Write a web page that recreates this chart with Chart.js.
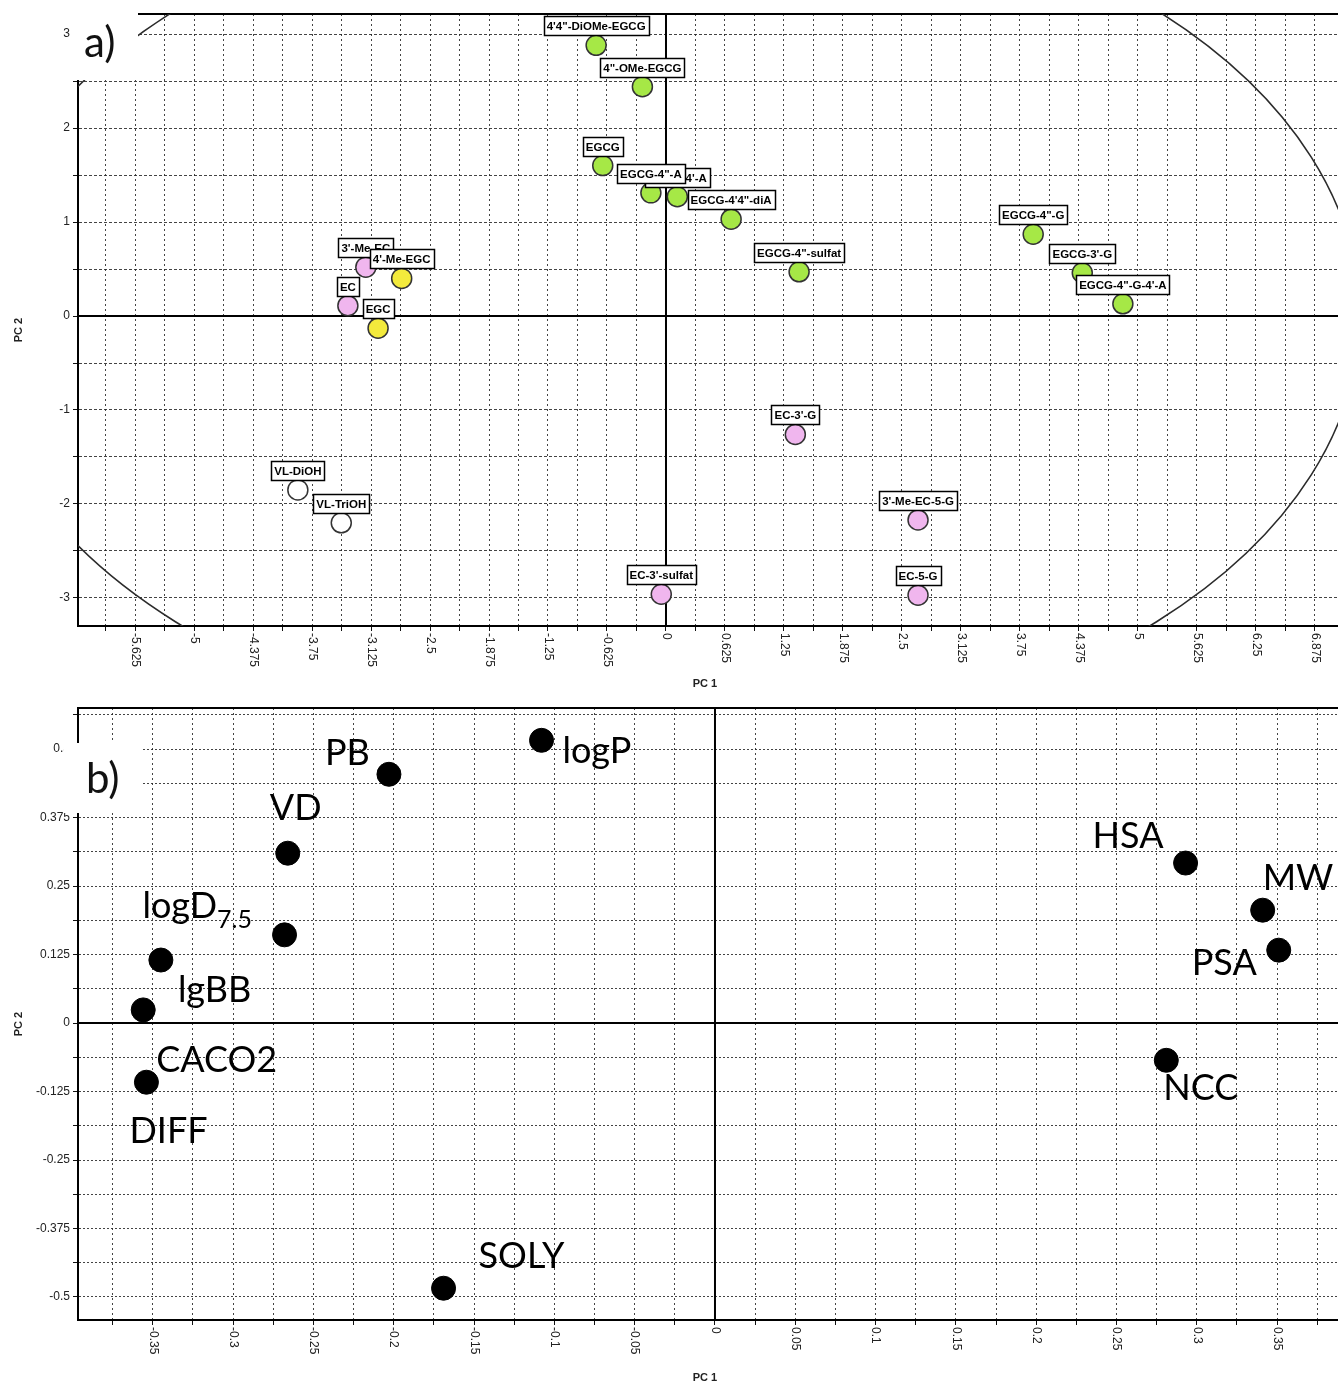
<!DOCTYPE html>
<html>
<head>
<meta charset="utf-8">
<title>PCA scores and loadings</title>
<script src="https://cdn.jsdelivr.net/npm/chart.js@4.4.1/dist/chart.umd.min.js"></script>
<style>
  html, body { margin: 0; padding: 0; background: #fff; overflow: hidden; }
  #page { position: relative; width: 1338px; height: 1387px; overflow: hidden; background: #fff; }
  #page canvas { position: absolute; left: 0; }
  #scores { top: 0; }
  #loadings { top: 694px; }
</style>
</head>
<body>
<div id="page">
  <canvas id="scores" width="1338" height="694"></canvas>
  <canvas id="loadings" width="1338" height="694"></canvas>
</div>
<script>
// ---------- a) score plot: compounds on PC 1 / PC 2 ----------
const compoundNames = [
  "4'4\"-DiOMe-EGCG", "4\"-OMe-EGCG", "EGCG", "EGCG-4'-A", "EGCG-4\"-A",
  "EGCG-4'4\"-diA", "EGCG-4\"-sulfat", "EGCG-4\"-G", "EGCG-3'-G", "EGCG-4\"-G-4'-A",
  "3'-Me-EC", "4'-Me-EGC", "EC", "EGC", "VL-DiOH", "VL-TriOH",
  "EC-3'-G", "3'-Me-EC-5-G", "EC-3'-sulfat", "EC-5-G"
];
const compoundPC1 = [-0.74, -0.25, -0.67, 0.12, -0.16, 0.69, 1.41, 3.89, 4.41, 4.84,
                     -3.18, -2.80, -3.37, -3.05, -3.90, -3.44, 1.37, 2.67, -0.05, 2.67];
const compoundPC2 = [2.88, 2.44, 1.60, 1.27, 1.31, 1.03, 0.47, 0.87, 0.46, 0.13,
                     0.52, 0.40, 0.11, -0.13, -1.85, -2.20, -1.26, -2.17, -2.96, -2.97];
const compoundClass = ['EGCG', 'EGCG', 'EGCG', 'EGCG', 'EGCG', 'EGCG', 'EGCG', 'EGCG', 'EGCG', 'EGCG',
                       'EC', 'EGC', 'EC', 'EGC', 'VL', 'VL', 'EC', 'EC', 'EC', 'EC'];
const scoreTicksX = [-5.625, -5, -4.375, -3.75, -3.125, -2.5, -1.875, -1.25, -0.625, 0,
                     0.625, 1.25, 1.875, 2.5, 3.125, 3.75, 4.375, 5, 5.625, 6.25, 6.875];
const scoreTicksY = [-3, -2, -1, 0, 1, 2, 3];
// Hotelling T2 ellipse semi-axes (PC 1, PC 2)
const ellipseA = 7.35;
const ellipseB = 4.6;

// ---------- b) loading plot: descriptors on PC 1 / PC 2 ----------
const descriptorNames = ['logP', 'PB', 'VD', 'logD', 'lgBB', 'CACO2', 'DIFF', 'SOLY', 'HSA', 'MW', 'PSA', 'NCC'];
const descriptorSubscripts = ['', '', '', '7.5', '', '', '', '', '', '', '', ''];
const loadingPC1 = [-0.108, -0.203, -0.266, -0.268, -0.345, -0.356, -0.354, -0.169, 0.293, 0.341, 0.351, 0.281];
const loadingPC2 = [0.516, 0.454, 0.310, 0.161, 0.115, 0.024, -0.108, -0.484, 0.292, 0.206, 0.133, -0.068];
const loadingTicksX = [-0.35, -0.3, -0.25, -0.2, -0.15, -0.1, -0.05, 0, 0.05, 0.1, 0.15, 0.2, 0.25, 0.3, 0.35];
const loadingTicksY = [-0.5, -0.375, -0.25, -0.125, 0, 0.125, 0.25, 0.375, 0.5];

// ---------- styling ----------
const classColors = { EGCG: '#a6e846', EGC: '#f3ea3c', EC: '#f0b6ee', VL: '#ffffff' };
// text anchor of each descriptor name, in px from its marker (left, baseline)
const descriptorLabelOffsets = [[21, 23], [-64, -9], [-18, -33], [-142, -17], [17, 42], [13, 62],
                                [-17, 61], [35, -20], [-93, -15], [0, -20], [-87, 25], [-3, 40]];

// grid positions: every major tick plus the half-steps in between, inside [lo, hi]
function gridValues(major, lo, hi) {
  const step = (major[1] - major[0]) / 2;
  const out = [];
  let v = major[0] - step * Math.floor((major[0] - lo) / step);
  for (; v <= hi + 1e-9; v += step) out.push(Math.round(v * 1e6) / 1e6);
  return out;
}

function makeScale(min, max, major, dash) {
  return {
    type: 'linear', min, max,
    afterBuildTicks: s => { s.ticks = gridValues(major, min, max).map(v => ({ value: v })); },
    ticks: { display: false },
    grid: {
      color: c => (c.tick && Math.abs(c.tick.value) < 1e-9) ? 'rgba(0,0,0,0)' : 'rgba(35,35,35,0.85)',
      lineWidth: 1, tickLength: 5, tickColor: '#111', tickWidth: 1
    },
    border: { display: true, color: '#000', width: 2, dash }
  };
}

const fmt = v => String(v);

const panelPlugin = {
  id: 'panel',
  beforeDatasetsDraw(chart, args, o) {
    const { ctx, chartArea: ca, scales: { x, y } } = chart;
    ctx.save();
    ctx.strokeStyle = '#000';
    ctx.lineWidth = 2;
    const x0 = x.getPixelForValue(0), y0 = y.getPixelForValue(0);
    ctx.beginPath();
    ctx.moveTo(x0, ca.top); ctx.lineTo(x0, ca.bottom);
    ctx.moveTo(ca.left, y0); ctx.lineTo(ca.right, y0);
    ctx.moveTo(ca.left, ca.top); ctx.lineTo(ca.right, ca.top);
    ctx.stroke();
    if (o.ellipse) {
      ctx.beginPath(); ctx.rect(ca.left, ca.top, ca.width, ca.height); ctx.clip();
      const rx = x.getPixelForValue(o.ellipse[0]) - x0;
      const ry = y0 - y.getPixelForValue(o.ellipse[1]);
      ctx.beginPath();
      ctx.ellipse(x0, y0, rx, ry, 0, 0, Math.PI * 2);
      ctx.lineWidth = 1.6; ctx.strokeStyle = '#2b2b2b';
      ctx.stroke();
    }
    ctx.restore();
  },
  afterDatasetsDraw(chart, args, o) {
    const { ctx } = chart;
    const pts = chart.getDatasetMeta(0).data;
    ctx.save();
    if (o.boxedLabels) {
      ctx.font = 'bold 11.5px Arial';
      ctx.textAlign = 'center'; ctx.textBaseline = 'middle';
      o.boxedLabels.forEach((t, i) => {
        const p = pts[i];
        const w = Math.round(ctx.measureText(t).width + 6), h = 19;
        const bx = Math.round(p.x - w / 2) + 0.5, by = Math.round(p.y - 10 - h) + 0.5;
        ctx.fillStyle = '#fff'; ctx.fillRect(bx, by, w, h);
        ctx.lineWidth = 1.5; ctx.strokeStyle = '#000'; ctx.strokeRect(bx, by, w, h);
        ctx.fillStyle = '#000'; ctx.fillText(t, p.x, by + h / 2 + 1);
      });
    }
    if (o.textLabels) {
      ctx.fillStyle = '#000'; ctx.textAlign = 'left'; ctx.textBaseline = 'alphabetic';
      o.textLabels.forEach((t, i) => {
        const p = pts[i];
        const [dx, dy] = o.offsets[i];
        ctx.font = '36px Lato';
        ctx.fillText(t, p.x + dx, p.y + dy);
        if (o.subscripts[i]) {
          const w = ctx.measureText(t).width;
          ctx.font = '25px Lato';
          ctx.fillText(o.subscripts[i], p.x + dx + w, p.y + dy + 10);
        }
      });
    }
    ctx.restore();
  },
  afterDraw(chart, args, o) {
    const { ctx, chartArea: ca, scales: { x, y } } = chart;
    ctx.save();
    ctx.fillStyle = '#222';
    ctx.font = '12px Arial';
    // x tick labels, turned to read downwards
    o.ticksX.forEach(v => {
      ctx.save();
      ctx.translate(x.getPixelForValue(v), ca.bottom + 7);
      ctx.rotate(Math.PI / 2);
      ctx.textAlign = 'left'; ctx.textBaseline = 'middle';
      ctx.fillText(fmt(v), 0, 0);
      ctx.restore();
    });
    // y tick labels
    ctx.textAlign = 'right'; ctx.textBaseline = 'middle';
    o.ticksY.forEach(v => ctx.fillText(fmt(v), ca.left - 8, y.getPixelForValue(v)));
    // axis titles
    ctx.font = 'bold 11px Arial';
    ctx.textAlign = 'center';
    ctx.fillText('PC 1', 705, 684);
    ctx.save();
    ctx.translate(19, 330); ctx.rotate(-Math.PI / 2);
    ctx.fillText('PC 2', 0, 0);
    ctx.restore();
    // panel tag
    const [bx, by, bw, bh] = o.tag.box;
    ctx.fillStyle = '#fff'; ctx.fillRect(bx, by, bw, bh);
    ctx.fillStyle = '#111'; ctx.font = '42px Lato';
    ctx.textAlign = 'left'; ctx.textBaseline = 'alphabetic';
    ctx.fillText(o.tag.text, o.tag.x, o.tag.y);
    ctx.restore();
  }
};

const commonOptions = {
  responsive: false,
  devicePixelRatio: 1,
  animation: false,
  events: [],
  layout: { autoPadding: false, padding: { left: 73, top: 14, right: 0, bottom: 63 } }
};

// a) scores
new Chart(document.getElementById('scores'), {
  type: 'scatter',
  data: {
    datasets: [{
      data: compoundPC1.map((v, i) => ({ x: v, y: compoundPC2[i] })),
      backgroundColor: compoundClass.map(c => classColors[c]),
      borderColor: '#333',
      borderWidth: 1.5,
      pointRadius: 10
    }]
  },
  options: {
    ...commonOptions,
    scales: {
      x: makeScale(-6.229, 7.119, scoreTicksX, [2, 3]),
      y: makeScale(-3.298, 3.213, scoreTicksY, [3, 2])
    },
    plugins: {
      legend: { display: false }, tooltip: { enabled: false },
      panel: {
        ellipse: [ellipseA, ellipseB],
        boxedLabels: compoundNames,
        ticksX: scoreTicksX, ticksY: scoreTicksY,
        tag: { text: 'a)', box: [70, 0, 68, 80], x: 84, y: 57 }
      }
    }
  },
  plugins: [panelPlugin]
});

// b) loadings
new Chart(document.getElementById('loadings'), {
  type: 'scatter',
  data: {
    datasets: [{
      data: loadingPC1.map((v, i) => ({ x: v, y: loadingPC2[i] })),
      backgroundColor: '#000',
      borderColor: '#000',
      borderWidth: 1,
      pointRadius: 12
    }]
  },
  options: {
    ...commonOptions,
    scales: {
      x: makeScale(-0.3966, 0.3879, loadingTicksX, [2, 3]),
      y: makeScale(-0.542, 0.575, loadingTicksY, [2, 2])
    },
    plugins: {
      legend: { display: false }, tooltip: { enabled: false },
      panel: {
        textLabels: descriptorNames,
        subscripts: descriptorSubscripts,
        offsets: descriptorLabelOffsets,
        ticksX: loadingTicksX, ticksY: loadingTicksY,
        tag: { text: 'b)', box: [64, 49, 79, 70], x: 86, y: 99 }
      }
    }
  },
  plugins: [panelPlugin]
});
</script>
</body>
</html>
